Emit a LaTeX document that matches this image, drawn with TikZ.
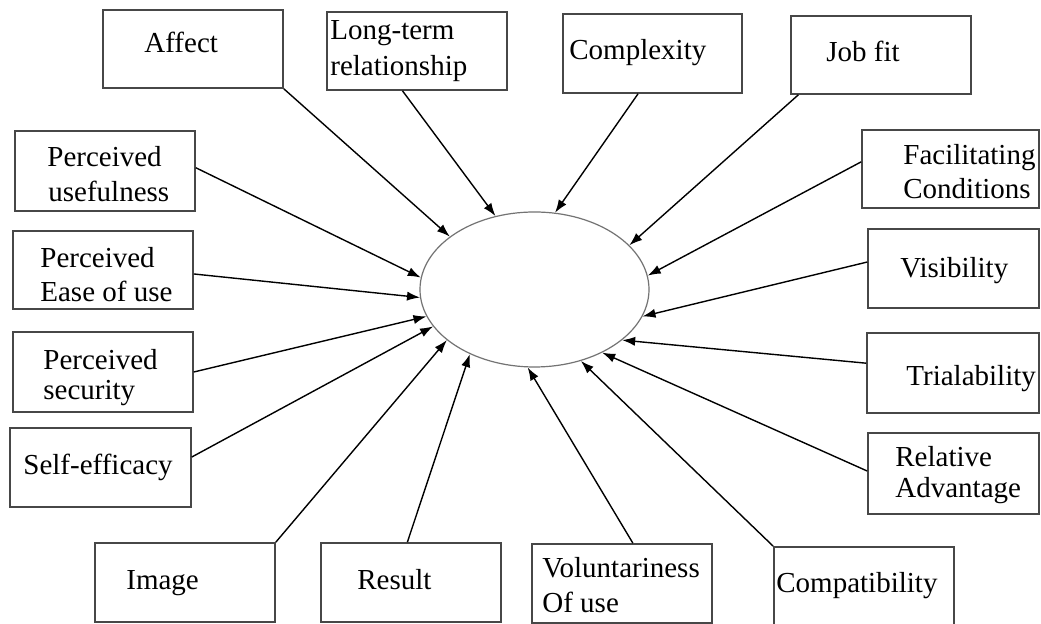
\documentclass[tikz,border=0pt]{standalone}
\usepackage{fontspec}
\setmainfont{Liberation Serif}
\usetikzlibrary{shapes.geometric,arrows.meta,calc}

\tikzset{
  box/.style={draw=black!72, line width=0.8pt, rectangle, inner sep=0pt,
              minimum width=90pt, minimum height=39pt},
  hub/.style={draw=black!55, line width=0.6pt, ellipse, inner sep=0pt,
              minimum width=114.5pt, minimum height=77.5pt},
  lbl/.style={anchor=base west, inner sep=0pt, font=\fontsize{14.5}{17}\selectfont},
  feed/.style={draw=black, line width=0.7pt, -{Latex[length=6.5pt,width=4.6pt]}}
}

\begin{document}
\begin{tikzpicture}[x=0.5pt,y=-0.5pt]
  \useasboundingbox[fill=white] (0,0) rectangle (1041,624);

  % central construct
  \node[hub] (c) at (534.5,289.5) {};

  % factor boxes
  \node[box] (aff) at (193,49) {};
  \node[box] (lt)  at (417,51) {};
  \node[box, minimum width=89.5pt, minimum height=39.5pt] (cx) at (652.5,53.5) {};
  \node[box] (jf)  at (881,55) {};
  \node[box, minimum width=88.5pt] (fc) at (950.5,169) {};
  \node[box, minimum height=40pt] (pu) at (105,171) {};
  \node[box] (pe)  at (103,270) {};
  \node[box, minimum height=40pt] (ps) at (103,372) {};
  \node[box, minimum width=90.5pt, minimum height=39.5pt] (se) at (100.5,467.5) {};
  \node[box, minimum height=39.5pt] (im) at (185,582.5) {};
  \node[box, minimum height=39.5pt] (rs) at (411,582.5) {};
  \node[box, minimum height=39.5pt] (vo) at (622,583.5) {};
  \node[box, minimum height=39.5pt] (cp) at (864,586.5) {};
  \node[box, minimum width=85.5pt, minimum height=39.5pt] (vi) at (953.5,268.5) {};
  \node[box, minimum width=86pt, minimum height=40pt] (tr) at (953,373) {};
  \node[box, minimum width=85.5pt, minimum height=40.5pt] (ra) at (953.5,473.5) {};

  % box texts
  \node[lbl] (aff-t)  at (144,53)  {Affect};
  \node[lbl] (lt-t1)  at (330,40)  {Long-term};
  \node[lbl] (lt-t2)  at (330,76)  {relationship};
  \node[lbl] (cx-t)   at (569,60)  {Complexity};
  \node[lbl] (jf-t)   at (826,62)  {Job fit};
  \node[lbl] (fc-t1)  at (903,165) {Facilitating};
  \node[lbl] (fc-t2)  at (903,199) {Conditions};
  \node[lbl] (pu-t1)  at (47,167)  {Perceived};
  \node[lbl] (pu-t2)  at (48,202)  {usefulness};
  \node[lbl] (pe-t1)  at (40,268)  {Perceived};
  \node[lbl] (pe-t2)  at (40,302)  {Ease of use};
  \node[lbl] (ps-t1)  at (43,370)  {Perceived};
  \node[lbl] (ps-t2)  at (43,400)  {security};
  \node[lbl] (se-t)   at (23,475)  {Self-efficacy};
  \node[lbl] (im-t)   at (126,590) {Image};
  \node[lbl] (rs-t)   at (357,590) {Result};
  \node[lbl] (vo-t1)  at (542,578) {Voluntariness};
  \node[lbl] (vo-t2)  at (542,613) {Of use};
  \node[lbl] (cp-t)   at (776,593) {Compatibility};
  \node[lbl] (vi-t)   at (900,278) {Visibility};
  \node[lbl] (tr-t)   at (906,386) {Trialability};
  \node[lbl] (ra-t1)  at (895,467) {Relative};
  \node[lbl] (ra-t2)  at (895,498) {Advantage};

  % influences pointing at the central construct
  \draw[feed] (aff.south east) -- (c.148.6);
  \draw[feed] ($(lt.south west)!0.42!(lt.south east)$) -- (c.118.6);
  \draw[feed] ($(cx.south west)!0.42!(cx.south east)$) -- (c.75.4);
  \draw[feed] ($(jf.south west)!0.045!(jf.south east)$) -- (c.25.2);
  \draw[feed] ($(fc.north west)!0.41!(fc.south west)$) -- (c.7.6);
  \draw[feed] ($(vi.north west)!0.42!(vi.south west)$) -- (c.-14.5);
  \draw[feed] ($(tr.north west)!0.38!(tr.south west)$) -- (c.-30);
  \draw[feed] ($(ra.north west)!0.47!(ra.south west)$) -- (c.-43.6);
  \draw[feed] (cp.north west) -- (c.-57.7);
  \draw[feed] ($(vo.north west)!0.56!(vo.north east)$) -- (c.-95.2);
  \draw[feed] ($(rs.north west)!0.48!(rs.north east)$) -- (c.225.5);
  \draw[feed] (im.north east) -- (c.210.6);
  \draw[feed] ($(se.north east)!0.37!(se.south east)$) -- (c.200.4);
  \draw[feed] ($(ps.north east)!0.5!(ps.south east)$) -- (c.194.3);
  \draw[feed] ($(pe.north east)!0.55!(pe.south east)$) -- (c.184.7);
  \draw[feed] ($(pu.north east)!0.46!(pu.south east)$) -- (c.174.4);
\end{tikzpicture}
\end{document}
